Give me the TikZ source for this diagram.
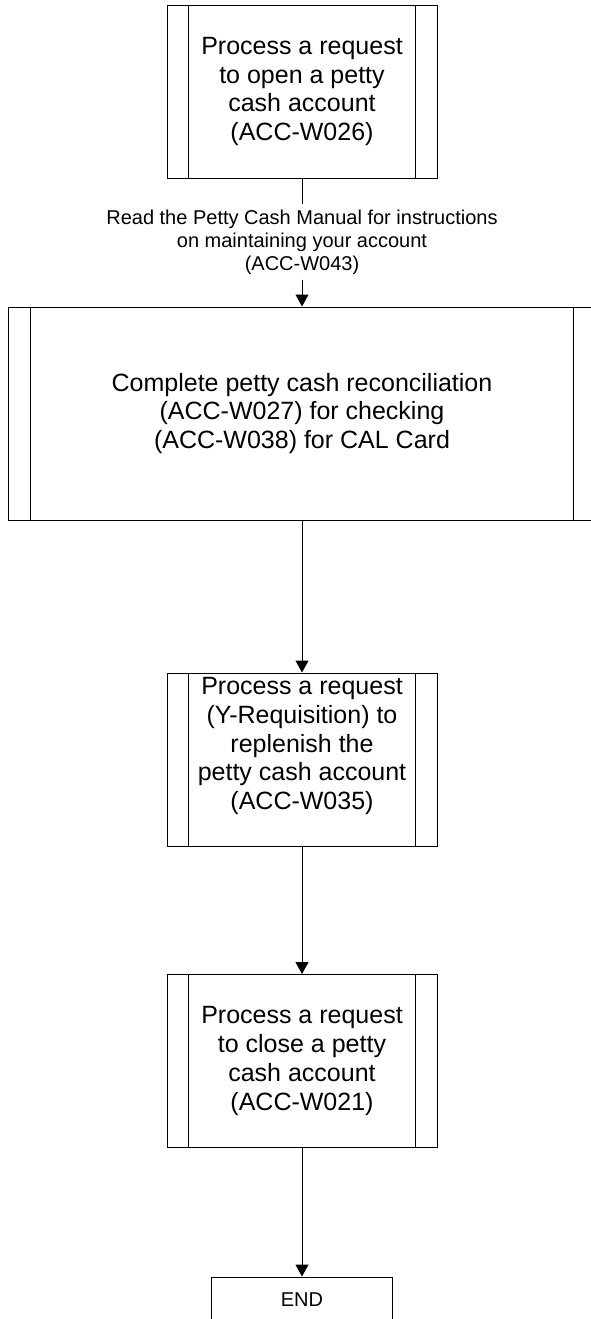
\documentclass[tikz,border=0pt]{standalone}
\usepackage{fontspec}
\setmainfont{Liberation Sans}
\usetikzlibrary{arrows.meta}

\tikzset{
  procbox/.style={draw, line width=0.5pt, align=center, inner sep=0pt,
    minimum width=135pt, minimum height=86.5pt, font=\fontsize{12.5}{14.4}\selectfont},
  boxtext/.style={align=center, inner sep=0pt, font=\fontsize{12.5}{14.4}\selectfont},
  endbox/.style={draw, line width=0.5pt, minimum width=90.5pt, minimum height=22.5pt,
    font=\fontsize{10}{11.5}\selectfont},
  note/.style={align=center, inner sep=2.5pt, font=\fontsize{10}{11.5}\selectfont},
  flow/.style={line width=0.5pt, -{Triangle[width=6.5pt,length=6pt]}}
}

\begin{document}
\begin{tikzpicture}[x=0.5pt,y=-0.5pt]
\useasboundingbox (0,0) rectangle (590,1319);

\node[procbox] (open) at (302,91.5) {Process a request\\to open a petty\\cash account\\(ACC-W026)};

\node[note] (manual) at (302,242) {Read the Petty Cash Manual for instructions\\on maintaining your account\\(ACC-W043)};

\node[procbox, minimum width=294pt, minimum height=106.5pt] (reconcile) at (302,413.5)
  {Complete petty cash reconciliation\\(ACC-W027) for checking\\(ACC-W038) for CAL Card};

\node[procbox] (replenish) at (302,759.5) {};
\node[boxtext] (replenish text) at (302,746) {Process a request\\(Y-Requisition) to\\replenish the\\petty cash account\\(ACC-W035)};

\node[procbox] (close) at (302,1061) {Process a request\\to close a petty\\cash account\\(ACC-W021)};

\node[endbox] (finish) at (302,1299.5) {END};

% double side lines
\foreach \n in {open,replenish,close}
{
\draw[line width=0.5pt] ([xshift=11pt]\n.north west) -- ([xshift=11pt]\n.south west)
  ([xshift=-11pt]\n.north east) -- ([xshift=-11pt]\n.south east);
}
\draw[line width=0.5pt] ([xshift=11.5pt]reconcile.north west) -- ([xshift=11.5pt]reconcile.south west)
  ([xshift=-11.5pt]reconcile.north east) -- ([xshift=-11.5pt]reconcile.south east);

\draw[line width=0.5pt] (open) -- (manual);
\draw[flow] (manual) -- (reconcile);
\draw[flow] (reconcile) -- (replenish);
\draw[flow] (replenish) -- (close);
\draw[flow] (close) -- (finish);
\end{tikzpicture}
\end{document}
